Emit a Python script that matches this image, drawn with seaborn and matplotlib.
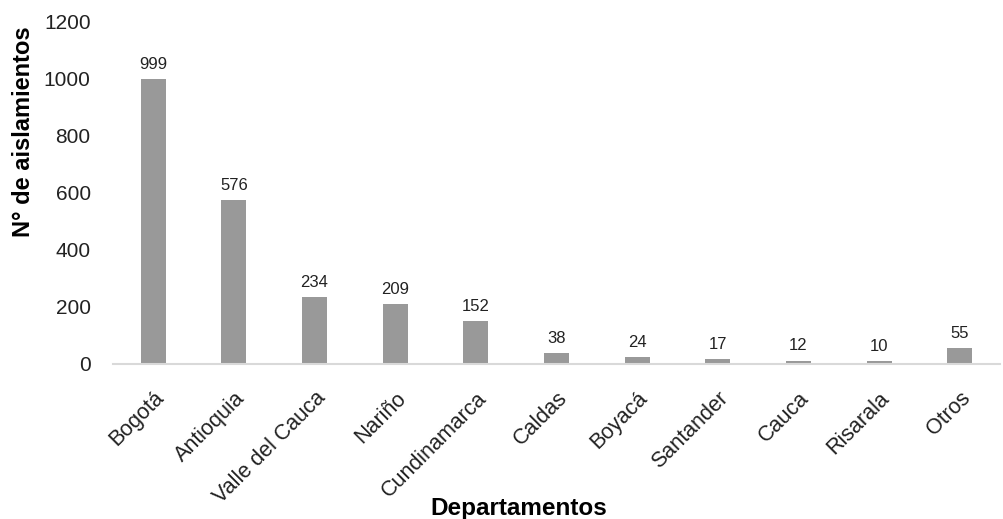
import matplotlib
matplotlib.use("Agg")
import matplotlib.pyplot as plt
import seaborn as sns
import pandas as pd

categories = ["Bogotá", "Antioquia", "Valle del Cauca", "Nariño", "Cundinamarca",
              "Caldas", "Boyacá", "Santander", "Cauca", "Risarala", "Otros"]
values = [999, 576, 234, 209, 152, 38, 24, 17, 12, 10, 55]
yticks = [0, 200, 400, 600, 800, 1000, 1200]

sns.set_theme(style="white")
plt.rcParams['font.family'] = ['Liberation Sans', 'DejaVu Sans']

df = pd.DataFrame({"dep": categories, "n": values})

fig = plt.figure(figsize=(10.04, 5.19), dpi=100)
ax = fig.add_axes([0.1125, 0.2987, 0.8835, 0.659])
sns.barplot(data=df, x="dep", y="n", color="#999999", width=0.31, ax=ax,
            saturation=1, edgecolor="none")
ax.set_xlim(-0.5, len(categories) - 0.5)
ax.set_ylim(0, 1200)
ax.set_yticks(yticks)
ax.set_yticklabels([str(t) for t in yticks], fontsize=15, color="#222222")
ax.tick_params(axis="y", length=0, pad=16)
ax.tick_params(axis="x", length=0, pad=17)
ax.set_xticks(range(len(categories)))
ax.set_xticklabels(categories, rotation=45, ha="right", rotation_mode="anchor",
                   fontsize=15.5, color="#222222")
for s in ["left", "top", "right"]:
    ax.spines[s].set_visible(False)
ax.spines["bottom"].set_color("#d9d9d9")
ax.spines["bottom"].set_linewidth(1.5)
for i, v in enumerate(values):
    ax.text(i, v + 25, str(v), ha="center", va="bottom", fontsize=12, color="#222222")
ax.set_xlabel("Departamentos", fontsize=17.5, fontweight="bold", color="black")
ax.set_ylabel("N° de aislamientos", fontsize=17, fontweight="bold", color="black")
ax.xaxis.set_label_coords(0.458, -0.39)
ax.yaxis.set_label_coords(-0.088, 0.68)
fig.savefig("out.png", dpi=100)
